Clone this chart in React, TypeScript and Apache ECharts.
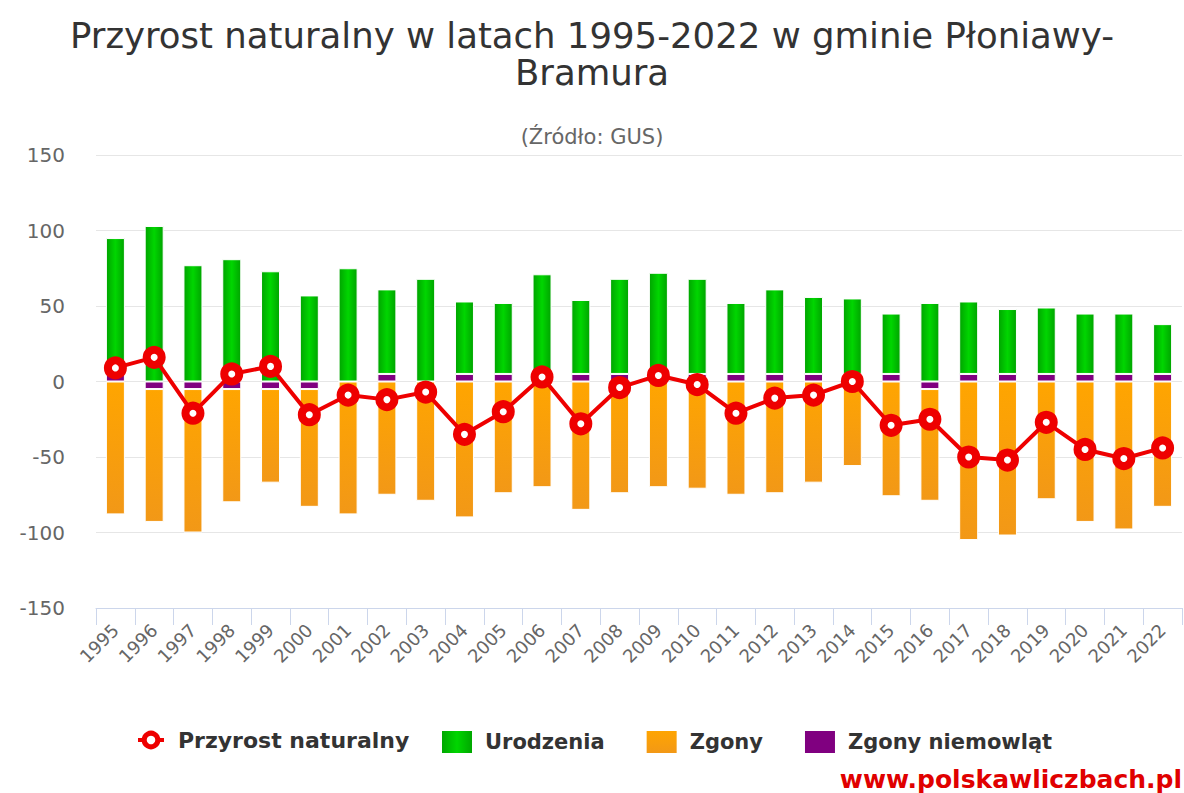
import React, { useEffect, useRef } from "react";
import * as echarts from "echarts";

const years = ["1995","1996","1997","1998","1999","2000","2001","2002","2003","2004","2005","2006","2007","2008","2009","2010","2011","2012","2013","2014","2015","2016","2017","2018","2019","2020","2021","2022"];
const infantDeaths = [5,-5,-5,-5,-5,-5,0,5,0,5,5,5,5,5,5,5,5,5,5,5,5,-5,5,5,5,5,5,5];
const births = [90,103,77,81,73,57,75,56,68,48,47,66,49,63,67,63,47,56,51,50,40,52,48,43,44,40,40,33];
const deaths = [-88,-88,-95,-75,-62,-78,-88,-75,-79,-90,-74,-70,-85,-74,-70,-71,-75,-74,-67,-56,-76,-74,-105,-102,-78,-93,-98,-83];
const naturalIncrease = [9,16,-21,5,10,-22,-9,-12,-7,-35,-20,3,-28,-4,4,-2,-21,-11,-9,0,-29,-25,-50,-52,-27,-45,-51,-44];
const yTicks = { min: -150, max: 150, interval: 50 };

const FONT = "DejaVu Sans";

export default function App() {
  const ref = useRef<HTMLDivElement>(null);
  useEffect(() => {
    if (!ref.current) return;
    const chart = echarts.init(ref.current, null, { renderer: "svg" });
    const green = new echarts.graphic.LinearGradient(0, 0, 1, 0, [
      { offset: 0, color: "#00a400" },
      { offset: 0.5, color: "#00d600" },
      { offset: 1, color: "#00a400" },
    ]);
    const orange = new echarts.graphic.LinearGradient(0, 0, 0, 1, [
      { offset: 0, color: "#ffa500" },
      { offset: 1, color: "#f29817" },
    ]);
    const barBase = {
      type: "bar" as const,
      stack: "total",
      barWidth: 19,
      itemStyle: { borderColor: "#ffffff", borderWidth: 1 },
    };
    const legendText = { fontSize: 21, fontWeight: "bold", color: "#333333", fontFamily: FONT };
    chart.setOption({
      animation: false,
      textStyle: { fontFamily: FONT },
      title: [
        {
          text: "Przyrost naturalny w latach 1995-2022 w gminie Płoniawy-\nBramura",
          left: "center",
          top: 12,
          textStyle: { fontSize: 35.5, fontWeight: "normal", color: "#333333", lineHeight: 37, fontFamily: FONT },
        },
        {
          text: "(Źródło: GUS)",
          left: "center",
          top: 121,
          textStyle: { fontSize: 21, fontWeight: "normal", color: "#666666", fontFamily: FONT },
        },
      ],
      grid: { left: 96, right: 2, top: 155, bottom: 185 },
      legend: [
        {
          data: [{ name: "Przyrost naturalny", itemStyle: { borderWidth: 5 }, lineStyle: { width: 4 } }],
          left: 136,
          top: 729,
          padding: 0,
          itemWidth: 26,
          itemHeight: 17,
          textStyle: { ...legendText, fontSize: 22, padding: [0, 0, 0, 9] },
        },
        {
          data: ["Urodzenia", "Zgony", "Zgony niemowląt"],
          left: 440,
          top: 729,
          padding: 0,
          icon: "rect",
          itemWidth: 32,
          itemHeight: 24,
          itemGap: 40,
          textStyle: { ...legendText, padding: [0, 0, 0, 7] },
        },
      ],
      xAxis: {
        type: "category",
        data: years,
        boundaryGap: true,
        axisLine: { onZero: false, lineStyle: { color: "#ccd6eb", width: 1 } },
        axisTick: { show: true, length: 17, lineStyle: { color: "#ccd6eb" } },
        axisLabel: { rotate: 45, interval: 0, fontSize: 18, color: "#666666", margin: 19, fontFamily: FONT },
        splitLine: { show: false },
      },
      yAxis: {
        type: "value",
        min: yTicks.min,
        max: yTicks.max,
        interval: yTicks.interval,
        axisLine: { show: false },
        axisTick: { show: false },
        axisLabel: { fontSize: 20, color: "#666666", margin: 31, fontFamily: FONT },
        splitLine: { lineStyle: { color: "#e6e6e6", width: 1 } },
      },
      series: [
        { ...barBase, name: "Zgony niemowląt", data: infantDeaths, itemStyle: { ...barBase.itemStyle, color: "#800080" } },
        { ...barBase, name: "Urodzenia", data: births, itemStyle: { ...barBase.itemStyle, color: green } },
        { ...barBase, name: "Zgony", data: deaths, itemStyle: { ...barBase.itemStyle, color: orange } },
        {
          type: "line",
          name: "Przyrost naturalny",
          data: naturalIncrease,
          symbol: "circle",
          symbolSize: 15,
          lineStyle: { color: "#ee0000", width: 4 },
          itemStyle: { color: "#ffffff", borderColor: "#ee0000", borderWidth: 8 },
          z: 5,
        },
      ],
      graphic: [
        {
          type: "text",
          right: 2,
          top: 767,
          style: { text: "www.polskawliczbach.pl", fill: "#e00000", font: `bold 25px "${FONT}"` },
        },
      ],
    });
    return () => chart.dispose();
  }, []);
  return <div ref={ref} style={{ position: "absolute", left: 0, top: 0, width: 1184, height: 793 }} />;
}
